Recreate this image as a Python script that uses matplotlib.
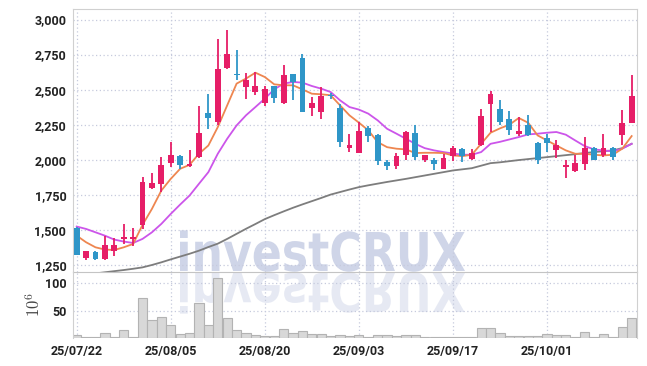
import numpy as np
import pandas as pd
import matplotlib
matplotlib.use('Agg')
from matplotlib import pyplot as plt
from matplotlib.textpath import TextPath
from matplotlib.patches import PathPatch
from matplotlib.font_manager import FontProperties
from matplotlib.transforms import Affine2D
from matplotlib.ticker import FuncFormatter

plt.rcParams['font.family'] = ['Roboto', 'DejaVu Sans']
plt.rcParams['font.weight'] = 'bold'
plt.rcParams['mathtext.fontset'] = 'cm'

# trading days (KRX holidays skipped)
holidays = ['2025-08-15', '2025-10-03', '2025-10-06', '2025-10-07', '2025-10-08', '2025-10-09']
dates = pd.date_range('2025-07-22', periods=60, freq=pd.offsets.CustomBusinessDay(holidays=holidays))

opens = [1517, 1298, 1345, 1293, 1350, 1433, 1438, 1536, 1798, 1829,
         1979, 2024, 1955, 2019, 2336, 2269, 2657, 2612, 2519, 2483,
         2405, 2524, 2405, 2610, 2726, 2371, 2340, 2464, 2369, 2083,
         2050, 2226, 2174, 1981, 1955, 2036, 2190, 2000, 1995, 1936,
         2024, 2079, 2007, 2102, 2400, 2360, 2293, 2183, 2250, 2121,
         2155, 2071, 1948, 1917, 1971, 2083, 2036, 2083, 2179, 2264]
highs = [1520, 1352, 1347, 1460, 1440, 1540, 1512, 1876, 1907, 2019,
         2126, 2036, 2067, 2383, 2471, 2860, 2924, 2786, 2621, 2626,
         2524, 2528, 2679, 2614, 2757, 2448, 2519, 2479, 2400, 2186,
         2269, 2238, 2181, 2002, 2048, 2202, 2245, 2036, 2012, 2043,
         2098, 2083, 2079, 2364, 2488, 2424, 2348, 2305, 2321, 2126,
         2186, 2138, 1995, 2036, 2162, 2090, 2186, 2090, 2357, 2607]
lows = [1318, 1288, 1286, 1288, 1312, 1400, 1388, 1507, 1795, 1769,
        1948, 1936, 1948, 2015, 2221, 2245, 2645, 2567, 2436, 2460,
        2383, 2407, 2400, 2424, 2338, 2310, 2288, 2436, 2090, 2055,
        2050, 2126, 1960, 1924, 1936, 2002, 2002, 1983, 1924, 1931,
        1990, 1983, 2002, 2098, 2198, 2245, 2174, 2169, 2169, 1971,
        2055, 2012, 1871, 1912, 1924, 1995, 2019, 2002, 2107, 2264]
closes = [1322, 1350, 1293, 1393, 1393, 1448, 1452, 1845, 1836, 1960,
          2031, 1964, 1971, 2193, 2298, 2645, 2757, 2602, 2567, 2524,
          2507, 2440, 2607, 2555, 2340, 2402, 2452, 2455, 2126, 2102,
          2202, 2169, 1990, 1955, 2024, 2198, 2019, 2031, 1971, 2014,
          2083, 2024, 2048, 2310, 2471, 2269, 2210, 2207, 2174, 2000,
          2119, 2107, 1960, 1979, 2083, 2000, 2086, 2019, 2264, 2452]

ma_short = [1459, 1412, 1376, 1360, 1357, 1376, 1400, 1536, 1650, 1781,
            1864, 1936, 1964, 2043, 2102, 2233, 2388, 2543, 2579, 2621,
            2590, 2538, 2531, 2531, 2502, 2471, 2467, 2460, 2388, 2317,
            2265, 2210, 2126, 2090, 2079, 2074, 2048, 2050, 2050, 2048,
            2031, 2026, 2036, 2114, 2193, 2224, 2250, 2298, 2264, 2174,
            2138, 2102, 2067, 2043, 2043, 2036, 2031, 2036, 2079, 2169]
ma_mid = [1524, 1507, 1483, 1459, 1431, 1417, 1407, 1436, 1483, 1543,
          1614, 1681, 1745, 1829, 1912, 2043, 2150, 2245, 2317, 2376,
          2436, 2502, 2543, 2555, 2550, 2526, 2507, 2483, 2424, 2376,
          2358, 2329, 2281, 2221, 2186, 2150, 2114, 2083, 2067, 2055,
          2045, 2036, 2036, 2055, 2114, 2128, 2145, 2162, 2181, 2186,
          2193, 2198, 2179, 2138, 2098, 2074, 2067, 2060, 2079, 2114]
ma_long = [1165, 1178, 1190, 1198, 1206, 1214, 1223, 1233, 1250, 1269,
           1290, 1310, 1330, 1352, 1378, 1402, 1436, 1472, 1508, 1542,
           1577, 1605, 1632, 1658, 1682, 1705, 1728, 1752, 1770, 1788,
           1805, 1818, 1830, 1842, 1853, 1864, 1876, 1888, 1900, 1912,
           1924, 1932, 1940, 1958, 1976, 1982, 1990, 1998, 2005, 2012,
           2019, 2026, 2033, 2040, 2048, 2055, 2061, 2067, 2083, 2114]

volume = [6, 2.5, 2.5, 10, 2.5, 15, 2.5, 72, 32, 39,
          23, 7, 10, 63, 24, 109, 37, 15, 8.5, 6,
          4, 4, 17, 8.5, 12, 7, 7, 4, 6, 4,
          6, 2.5, 6, 5, 4, 5, 6, 2.5, 2.5, 2.5,
          2.5, 2.5, 2.5, 18, 18, 8.5, 4, 4, 4, 4,
          7, 6, 5.5, 2.5, 11.5, 2.5, 7, 2.5, 20, 37]

UP = '#e61e67'
DOWN = '#2f96c8'
GRID = '#c6cadd'
SPINE = '#d0d0d0'

x = np.arange(len(dates))
o = np.array(opens); c = np.array(closes)
colors = [UP if cc >= oo else DOWN for oo, cc in zip(o, c)]

fig = plt.figure(figsize=(6.47, 3.66), dpi=100)
W, H = 647, 366
ax = fig.add_axes([73.3 / W, 94 / H, 564 / W, 263 / H])
axv = fig.add_axes([73.3 / W, 28 / H, 564 / W, 66 / H], sharex=ax)
for a in (ax, axv):
    a.patch.set_visible(False)

# watermark with reflection
fp = FontProperties(family='DejaVu Sans', weight='bold')
tp = TextPath((0, 0), 'investCRUX', size=1, prop=fp)
ext = tp.get_extents()
sx = 285 / ext.width
sy = 39 / 0.729
tx = 180 - ext.x0 * sx
wm = PathPatch(tp, transform=Affine2D().scale(sx, sy).translate(tx, H - 271),
               facecolor='#cfd5e8', edgecolor='none', zorder=-1)
wm_r = PathPatch(tp, transform=Affine2D().scale(sx, -sy).translate(tx, H - 273),
                 facecolor='#cfd5e8', edgecolor='none', alpha=0.5, zorder=-1)
fig.add_artist(wm)
fig.add_artist(wm_r)

# price panel
ax.plot(x, ma_long, color='#7d7d7d', lw=1.3, zorder=2)
ax.plot(x, ma_mid, color='#cc55ea', lw=1.3, zorder=2)
ax.plot(x, ma_short, color='#ee8650', lw=1.3, zorder=2)
ax.vlines(x, lows, highs, colors=colors, lw=1.3, zorder=3)
ax.bar(x, np.abs(c - o), bottom=np.minimum(o, c), width=0.62, color=colors, zorder=4)

ax.set_ylim(1200, 3075)
ax.set_yticks([1250, 1500, 1750, 2000, 2250, 2500, 2750, 3000])
ax.yaxis.set_major_formatter(FuncFormatter(lambda v, p: f'{int(v):,}'))
ax.set_xlim(-0.36, 59.6)
ax.set_xticks(x[::10])
ax.grid(True, color=GRID, linestyle=(0, (1, 2)), lw=0.9)
ax.tick_params(length=0, labelsize=9, labelcolor='#222222', pad=5, labelbottom=False)
for s in ['top', 'left', 'right']:
    ax.spines[s].set_color(SPINE)
ax.spines['bottom'].set_color('#c4c4c4')

# volume panel
axv.bar(x, volume, width=0.98, color='#d8d8d8', edgecolor='#b3b3b3', lw=0.8, zorder=2)
axv.set_ylim(0, 120)
axv.set_yticks([50, 100])
axv.set_xticks(x[::10])
axv.set_xticklabels(dates[::10].strftime('%y/%m/%d'))
axv.grid(True, color=GRID, linestyle=(0, (1, 2)), lw=0.9)
axv.tick_params(length=0, labelsize=9, labelcolor='#222222', pad=5)
axv.spines['top'].set_visible(False)
axv.spines['bottom'].set_visible(False)
for s in ['left', 'right']:
    axv.spines[s].set_color(SPINE)
axv.set_ylabel(r'$10^6$', fontsize=12, color='#444444', labelpad=1)

fig.savefig('out.png', dpi=100)
